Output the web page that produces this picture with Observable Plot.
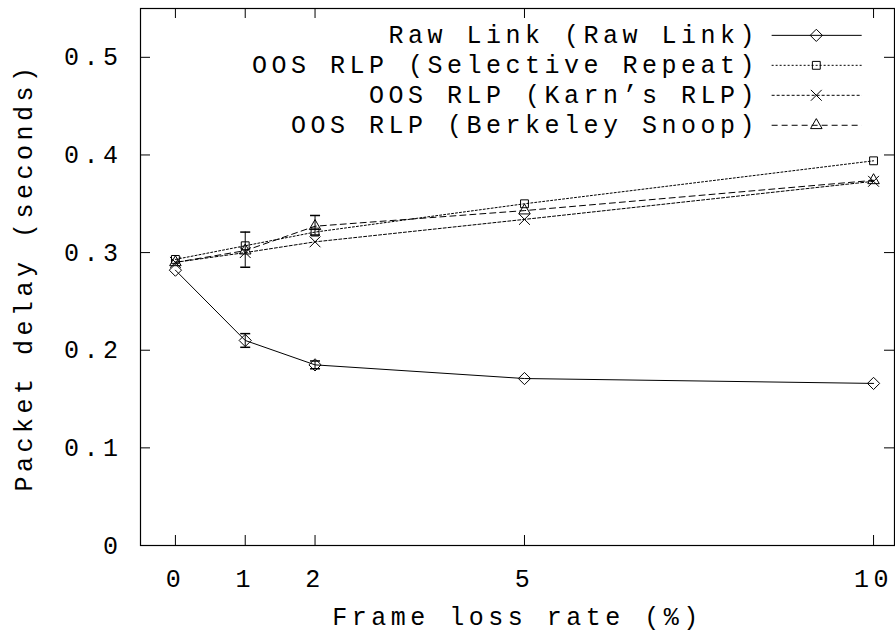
<!DOCTYPE html>
<html>
<head>
<meta charset="utf-8">
<script src="https://cdn.jsdelivr.net/npm/d3@7"></script>
<script src="https://cdn.jsdelivr.net/npm/@observablehq/plot@0.6"></script>
<style>
  html, body { margin: 0; padding: 0; background: #fff; }
  #chart { width: 895px; height: 635px; }
</style>
</head>
<body>
<div id="chart"></div>
<script>
// ---- data ----
const lossRates = [0, 1, 2, 5, 10];
const rawLink   = [0.282, 0.210, 0.185, 0.171, 0.166];
const selRepeat = [0.293, 0.307, 0.321, 0.350, 0.394];
const karnRLP   = [0.290, 0.300, 0.311, 0.334, 0.373];
const snoop     = [0.290, 0.302, 0.327, 0.343, 0.374];

const seriesNames = [
  "Raw Link (Raw Link)",
  "OOS RLP (Selective Repeat)",
  "OOS RLP (Karn’s RLP)",
  "OOS RLP (Berkeley Snoop)"
];

// error bars: series index, x, low, high
const errSeries = [0, 0, 3, 3];
const errX      = [1, 2, 1, 2];
const errLow    = [0.203, 0.181, 0.285, 0.318];
const errHigh   = [0.217, 0.189, 0.321, 0.338];

const xTicks = [0, 1, 2, 5, 10];
const yTicks = [0, 0.1, 0.2, 0.3, 0.4, 0.5];

// ---- derived tables ----
const seriesValues = [rawLink, selRepeat, karnRLP, snoop];
const table = seriesValues.map((vals, s) => lossRates.map((x, i) => ({s, x, y: vals[i]})));
const errors = errX.map((x, i) => ({s: errSeries[i], x, lo: errLow[i], hi: errHigh[i]}));

// ---- styles ----
const dashes = ["none", "2,2", "3,2", "6,4"];
const symbols = ["diamond2", "square2", "times", "triangle2"];
const radii = [5.5, 5, 5, 5.5];

const capSymbol = {
  draw(context, size) {
    const w = Math.sqrt(size / Math.PI);
    context.moveTo(-w, 0);
    context.lineTo(w, 0);
  }
};

const W = 895, H = 635, mL = 140, mR = 1, mT = 8, mB = 90;
const innerW = W - mL - mR, innerH = H - mT - mB;
const tickLen = 10;

// legend layout (in data space of the plot)
const legendTextX = 8.36, legendLineX1 = 8.54, legendLineX2 = 9.83, legendMarkX = 9.18;
const legendTop = 0.5225, legendStep = 0.0307;
const legend = seriesNames.map((name, i) => ({i, name, y: legendTop - i * legendStep}));

const marks = [
  Plot.frame({stroke: "#000", strokeWidth: 1.2}),
  Plot.axisX(xTicks, {tickSize: 0, tickPadding: 24, label: "Frame loss rate (%)", labelAnchor: "center", labelOffset: 79, labelArrow: "none"}),
  Plot.axisY(yTicks, {tickSize: 0, tickPadding: 18, tickFormat: d => d === 0 ? "0" : d.toFixed(1), label: "Packet delay (seconds)", labelAnchor: "center", labelOffset: 126, labelArrow: "none"}),
  // inward ticks on all four sides
  Plot.tickX(xTicks, {x: d => d, insetTop: innerH - tickLen, stroke: "#000"}),
  Plot.tickX(xTicks, {x: d => d, insetBottom: innerH - tickLen, stroke: "#000"}),
  Plot.tickY(yTicks, {y: d => d, insetRight: innerW - tickLen, stroke: "#000"}),
  Plot.tickY(yTicks, {y: d => d, insetLeft: innerW - tickLen, stroke: "#000"})
];

table.forEach((rows, s) => {
  marks.push(Plot.line(rows, {x: "x", y: "y", stroke: "#000", strokeWidth: 1, strokeDasharray: dashes[s]}));
});

marks.push(Plot.ruleX(errors, {x: "x", y1: "lo", y2: "hi", stroke: "#000", strokeWidth: 1}));
marks.push(Plot.dot(errors, {x: "x", y: "lo", symbol: capSymbol, r: 5, stroke: "#000", fill: "none"}));
marks.push(Plot.dot(errors, {x: "x", y: "hi", symbol: capSymbol, r: 5, stroke: "#000", fill: "none"}));

table.forEach((rows, s) => {
  marks.push(Plot.dot(rows, {x: "x", y: "y", symbol: symbols[s], r: radii[s], stroke: "#000", fill: "none", strokeWidth: 1}));
});

// legend
marks.push(Plot.text(legend, {x: legendTextX, y: "y", text: "name", textAnchor: "end", fill: "#000"}));
legend.forEach(d => {
  marks.push(Plot.link([d], {x1: legendLineX1, x2: legendLineX2, y1: "y", y2: "y", stroke: "#000", strokeWidth: 1, strokeDasharray: dashes[d.i]}));
  marks.push(Plot.dot([d], {x: legendMarkX, y: "y", symbol: symbols[d.i], r: radii[d.i], stroke: "#000", fill: "none", strokeWidth: 1}));
});

const chart = Plot.plot({
  width: W, height: H,
  marginLeft: mL, marginRight: mR, marginTop: mT, marginBottom: mB,
  x: {domain: [-0.5, 10.3]},
  y: {domain: [0, 0.55]},
  style: {fontFamily: "Liberation Mono", fontSize: "25px", letterSpacing: "4.5px", color: "#000", background: "#fff", overflow: "visible"},
  marks
});
document.getElementById("chart").appendChild(chart);
</script>
</body>
</html>
